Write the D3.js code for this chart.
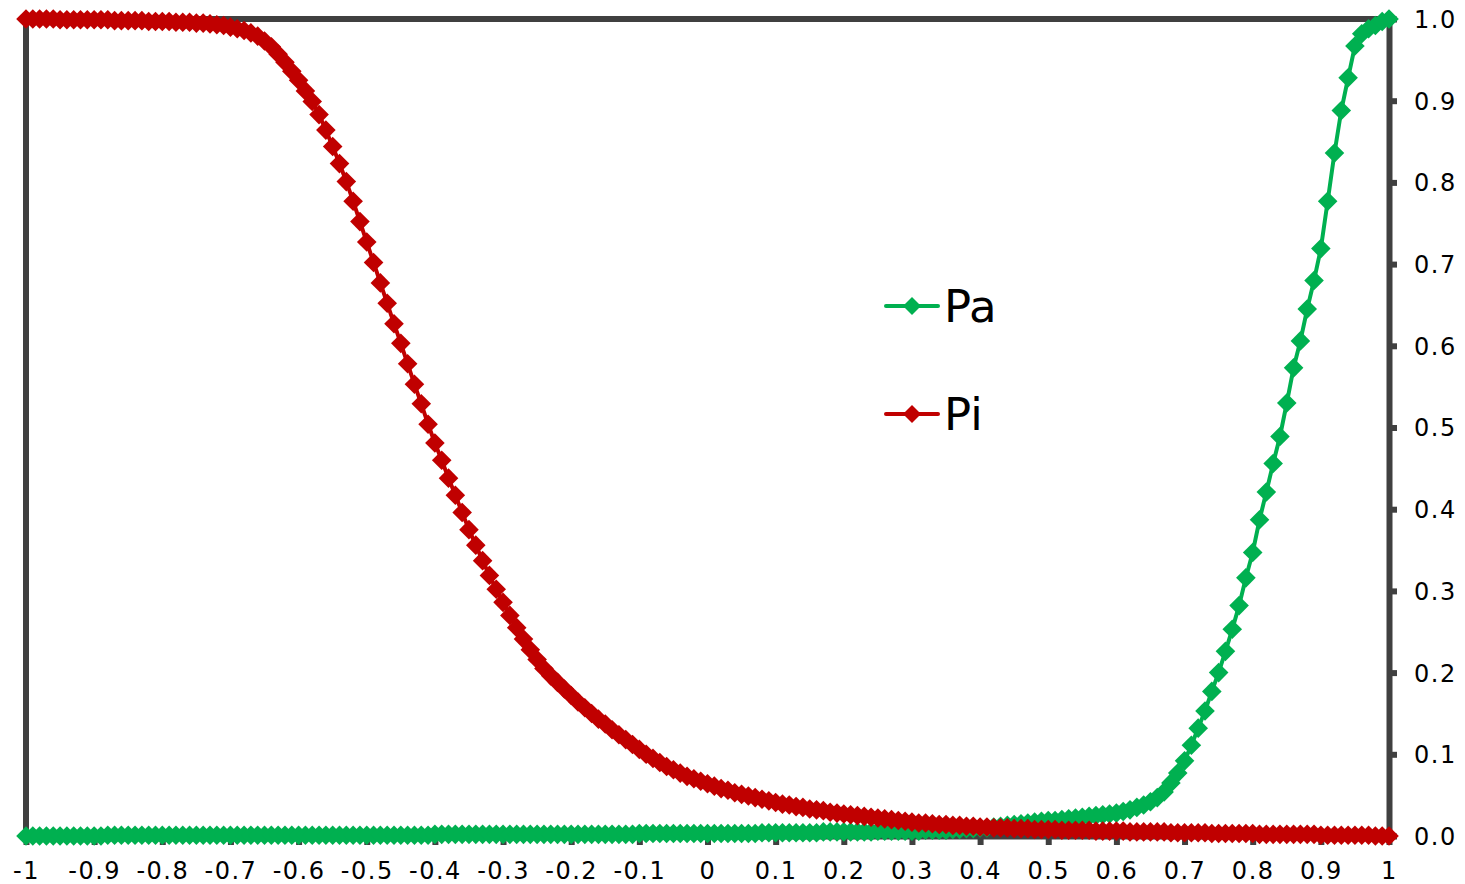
<!DOCTYPE html>
<html>
<head>
<meta charset="utf-8">
<script src="https://cdn.jsdelivr.net/npm/d3@7"></script>
<style>
  html, body { margin: 0; padding: 0; background: #ffffff; }
  svg { display: block; }
  text { font-family: "DejaVu Sans", Verdana, sans-serif; fill: #000; }
</style>
</head>
<body>
<svg id="chart" width="1465" height="884"></svg>
<script>
// Categories (x), step 0.01
const categories = [
-1,-0.99,-0.98,-0.97,-0.96,-0.95,-0.94,-0.93,-0.92,-0.91,
-0.9,-0.89,-0.88,-0.87,-0.86,-0.85,-0.84,-0.83,-0.82,-0.81,
-0.8,-0.79,-0.78,-0.77,-0.76,-0.75,-0.74,-0.73,-0.72,-0.71,
-0.7,-0.69,-0.68,-0.67,-0.66,-0.65,-0.64,-0.63,-0.62,-0.61,
-0.6,-0.59,-0.58,-0.57,-0.56,-0.55,-0.54,-0.53,-0.52,-0.51,
-0.5,-0.49,-0.48,-0.47,-0.46,-0.45,-0.44,-0.43,-0.42,-0.41,
-0.4,-0.39,-0.38,-0.37,-0.36,-0.35,-0.34,-0.33,-0.32,-0.31,
-0.3,-0.29,-0.28,-0.27,-0.26,-0.25,-0.24,-0.23,-0.22,-0.21,
-0.2,-0.19,-0.18,-0.17,-0.16,-0.15,-0.14,-0.13,-0.12,-0.11,
-0.1,-0.09,-0.08,-0.07,-0.06,-0.05,-0.04,-0.03,-0.02,-0.01,
0,0.01,0.02,0.03,0.04,0.05,0.06,0.07,0.08,0.09,
0.1,0.11,0.12,0.13,0.14,0.15,0.16,0.17,0.18,0.19,
0.2,0.21,0.22,0.23,0.24,0.25,0.26,0.27,0.28,0.29,
0.3,0.31,0.32,0.33,0.34,0.35,0.36,0.37,0.38,0.39,
0.4,0.41,0.42,0.43,0.44,0.45,0.46,0.47,0.48,0.49,
0.5,0.51,0.52,0.53,0.54,0.55,0.56,0.57,0.58,0.59,
0.6,0.61,0.62,0.63,0.64,0.65,0.66,0.67,0.68,0.69,
0.7,0.71,0.72,0.73,0.74,0.75,0.76,0.77,0.78,0.79,
0.8,0.81,0.82,0.83,0.84,0.85,0.86,0.87,0.88,0.89,
0.9,0.91,0.92,0.93,0.94,0.95,0.96,0.97,0.98,0.99,
1];

const paValues = [
0.000,0.000,0.000,0.000,0.000,0.000,0.000,0.000,0.000,0.000,
0.000,0.000,0.001,0.001,0.001,0.001,0.001,0.001,0.001,0.001,
0.001,0.001,0.001,0.001,0.001,
0.001,0.001,0.001,0.001,0.001,0.001,0.001,0.001,0.001,0.001,
0.001,0.001,0.001,0.001,0.001,0.001,0.001,0.001,0.001,0.001,
0.001,0.001,0.001,0.001,0.001,0.001,0.001,0.001,0.001,0.001,
0.001,0.001,0.001,0.001,0.001,0.002,0.002,0.002,0.002,0.002,
0.002,0.002,0.002,0.002,0.002,0.002,0.002,0.002,0.002,0.002,
0.002,0.002,0.002,0.002,0.002,0.002,0.002,0.002,0.002,0.002,
0.002,0.002,0.002,0.002,0.002,0.003,0.003,0.003,0.003,0.003,
0.003,0.003,0.003,0.003,0.003,0.003,0.003,0.003,0.003,0.003,
0.003,0.003,0.003,0.004,0.004,0.004,0.004,0.004,0.004,0.004,
0.004,0.004,0.005,0.005,0.005,0.005,0.005,0.005,0.005,0.005,
0.006,0.006,0.006,0.006,0.006,0.006,0.006,0.007,0.007,0.007,
0.007,0.008,0.008,0.009,0.009,0.010,0.010,0.011,0.012,0.013,
0.014,0.015,0.016,0.017,0.018,0.019,0.019,0.020,0.021,0.022,
0.023,0.024,0.025,0.026,0.027,0.028,0.030,0.032,0.035,0.038,
0.042,0.047,0.054,0.065,0.077,0.092,0.111,0.132,0.153,0.177,
0.200,0.226,0.253,0.282,0.316,0.347,0.387,0.421,0.456,0.489,
0.530,0.573,0.606,0.645,0.680,0.719,0.777,0.836,0.888,0.928,
0.967,0.982,0.988,0.992,0.997,1.000];

const piValues = [
1.000,1.000,1.000,1.000,1.000,0.999,0.999,0.999,0.999,0.999,
0.999,0.999,0.999,0.998,0.998,0.998,0.998,0.998,0.997,0.997,
0.997,0.997,0.996,0.996,0.996,
0.995,0.995,0.994,0.993,0.992,0.990,0.988,0.986,0.983,0.979,
0.973,0.966,0.957,0.947,0.936,0.925,0.912,0.899,0.883,0.864,
0.844,0.823,0.801,0.777,0.752,0.727,0.702,0.677,0.652,0.627,
0.603,0.578,0.553,0.529,0.504,0.481,0.460,0.438,0.417,0.396,
0.375,0.356,0.337,0.319,0.302,0.286,0.270,0.255,0.241,0.228,
0.216,0.205,0.196,0.188,0.180,0.172,0.164,0.157,0.150,0.143,
0.137,0.130,0.124,0.118,0.112,0.106,0.100,0.095,0.090,0.085,
0.081,0.077,0.073,0.070,0.067,0.064,0.061,0.058,0.056,0.053,
0.051,0.049,0.047,0.045,0.043,0.041,0.039,0.038,0.036,0.035,
0.033,0.032,0.031,0.029,0.028,0.027,0.026,0.025,0.024,0.023,
0.022,0.021,0.020,0.019,0.018,0.017,0.016,0.016,0.015,0.014,
0.014,0.013,0.013,0.012,0.012,0.011,0.011,0.010,0.010,0.010,
0.009,0.009,0.009,0.008,0.008,0.008,0.008,0.007,0.007,0.007,
0.007,0.007,0.006,0.006,0.006,0.006,0.006,0.005,0.005,0.005,
0.005,0.005,0.005,0.004,0.004,0.004,0.004,0.004,0.004,0.003,
0.003,0.003,0.003,0.003,0.003,0.003,0.002,0.002,0.002,0.002,
0.002,0.002,0.002,0.002,0.002,0.001,0.001,0.001,0.001,0.001,
0.001,0.001,0.001,0.000,0.000,0.000];

const xTickValues = [-1,-0.9,-0.8,-0.7,-0.6,-0.5,-0.4,-0.3,-0.2,-0.1,0,0.1,0.2,0.3,0.4,0.5,0.6,0.7,0.8,0.9,1];
const xTickLabels = ["-1","-0.9","-0.8","-0.7","-0.6","-0.5","-0.4","-0.3","-0.2","-0.1","0","0.1","0.2","0.3","0.4","0.5","0.6","0.7","0.8","0.9","1"];
const yTickValues = [0,0.1,0.2,0.3,0.4,0.5,0.6,0.7,0.8,0.9,1];
const yTickLabels = ["0.0","0.1","0.2","0.3","0.4","0.5","0.6","0.7","0.8","0.9","1.0"];
const seriesNames = ["Pa","Pi"];
const seriesColors = ["#00B050","#C00000"];

const svg = d3.select("#chart");
const x = d3.scaleLinear().domain([-1, 1]).range([26, 1389]);
const y = d3.scaleLinear().domain([0, 1]).range([836, 19]);
const axisColor = "#404040";

// Left and top frame lines
svg.append("line").attr("x1", x(-1)).attr("x2", x(-1)).attr("y1", y(1)).attr("y2", y(0))
  .attr("stroke", axisColor).attr("stroke-width", 6);
svg.append("line").attr("x1", x(-1) - 3).attr("x2", x(1) + 3).attr("y1", y(1)).attr("y2", y(1))
  .attr("stroke", axisColor).attr("stroke-width", 6);

// Bottom axis
const xAxis = d3.axisBottom(x).tickValues(xTickValues)
  .tickFormat((d, i) => xTickLabels[i]).tickSize(9).tickSizeOuter(0);
const gx = svg.append("g").attr("transform", `translate(0,${y(0)})`).call(xAxis);
gx.select(".domain").attr("stroke", axisColor).attr("stroke-width", 6);
gx.selectAll(".tick line").attr("stroke", axisColor).attr("stroke-width", 6);
gx.selectAll(".tick text").attr("y", 43).attr("dy", null)
  .style("font-size", "24px").style("letter-spacing", "1.5px")
  .style("font-family", '"DejaVu Sans", Verdana, sans-serif').attr("fill", "#000");

// Right axis
const yAxis = d3.axisRight(y).tickValues(yTickValues)
  .tickFormat((d, i) => yTickLabels[i]).tickSize(8).tickSizeOuter(0);
const gy = svg.append("g").attr("transform", `translate(${x(1)},0)`).call(yAxis);
gy.select(".domain").attr("stroke", axisColor).attr("stroke-width", 6);
gy.selectAll(".tick line").attr("stroke", axisColor).attr("stroke-width", 6);
gy.selectAll(".tick text").attr("x", 25).attr("dy", "0.35em")
  .style("font-size", "24px").style("letter-spacing", "1.5px")
  .style("font-family", '"DejaVu Sans", Verdana, sans-serif').attr("fill", "#000");

// Series
const diamond = "M0,-9.8L9.8,0L0,9.8L-9.8,0Z";
const seriesData = [paValues, piValues];
seriesData.forEach((vals, s) => {
  const pts = categories.map((c, i) => [c, vals[i]]);
  const line = d3.line().x(d => x(d[0])).y(d => y(d[1]));
  const g = svg.append("g");
  g.append("path").datum(pts).attr("d", line).attr("fill", "none")
    .attr("stroke", seriesColors[s]).attr("stroke-width", 4).attr("stroke-linejoin", "round");
  g.selectAll("path.m").data(pts).join("path").attr("class", "m")
    .attr("d", diamond)
    .attr("transform", d => `translate(${x(d[0])},${y(d[1])})`)
    .attr("fill", seriesColors[s]);
});

// Legend
const legendY = [306, 414];
seriesNames.forEach((name, i) => {
  const g = svg.append("g");
  g.append("line").attr("x1", 886).attr("x2", 938).attr("y1", legendY[i]).attr("y2", legendY[i])
    .attr("stroke", seriesColors[i]).attr("stroke-width", 4).attr("stroke-linecap", "round");
  g.append("path").attr("d", "M0,-9L9,0L0,9L-9,0Z").attr("transform", `translate(912,${legendY[i]})`)
    .attr("fill", seriesColors[i]);
  g.append("text").attr("x", 944).attr("y", legendY[i] + 16)
    .style("font-size", "45px").text(name);
});
</script>
</body>
</html>
